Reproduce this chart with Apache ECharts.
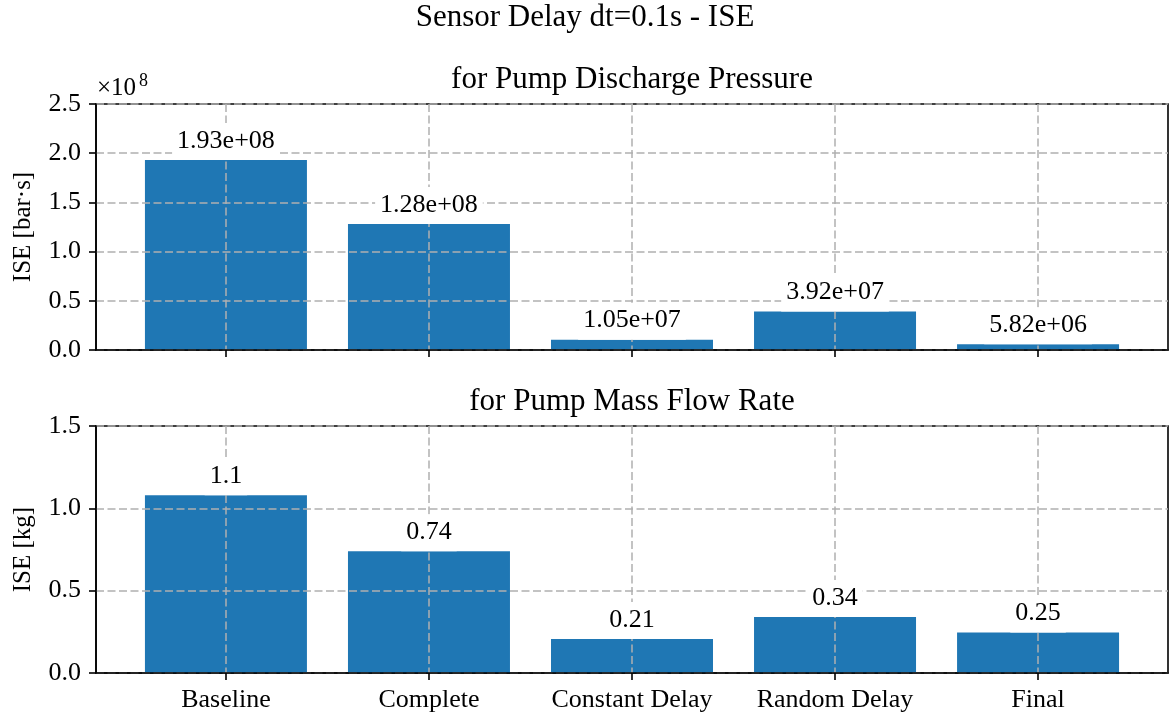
<!DOCTYPE html>
<html><head><meta charset="utf-8">
<script src="https://cdn.jsdelivr.net/npm/echarts@6/dist/echarts.min.js"></script>
<style>html,body{margin:0;padding:0;background:#fff}#c{width:1170px;height:717px}</style>
</head><body><div id="c"></div>
<script>
// ---- data ----
const categories = ['Baseline', 'Complete', 'Constant Delay', 'Random Delay', 'Final'];
const pressureISE = [1.93e8, 1.28e8, 1.05e7, 3.92e7, 5.82e6];   // bar·s
const massFlowISE = [1.08, 0.74, 0.206, 0.34, 0.246];           // kg
const pressureTicks = [0, 0.5, 1.0, 1.5, 2.0, 2.5];             // ×1e8
const massFlowTicks = [0, 0.5, 1.0, 1.5];
const pressureScale = 1e8;

// ---- style ----
const FF = 'Liberation Serif';
const TICK = 26, TITLE = 31;
const BLUE = '#1f77b4';
const GRIDC = '#b0b0b0';

const chart = echarts.init(document.getElementById('c'), null, {renderer: 'canvas'});

function fmtExp(v) {
  const s = v.toExponential(2);
  const [m, e] = s.split('e');
  const sign = e[0];
  let digits = e.slice(1);
  if (digits.length < 2) digits = '0' + digits;
  return m + 'e' + sign + digits;
}
function fmtG2(v) { return String(Number(v.toPrecision(2))); }

const catIdx = categories.map((c, i) => i);
const grids = [
  {left: 96, right: 2, top: 104, height: 246, show: true, borderColor: '#000', borderWidth: 1.6, backgroundColor: 'transparent'},
  {left: 96, right: 2, top: 426, height: 247, show: true, borderColor: '#000', borderWidth: 1.6, backgroundColor: 'transparent'}
];
const DASH = {color: GRIDC, width: 1.5, type: [8, 3.5]};

function xAxisDef(gi, showLabels) {
  return {
    type: 'value', gridIndex: gi, min: -0.64, max: categories.length - 1 + 0.64, z: 3,
    axisLine: {show: true, onZero: false, lineStyle: {color: '#000', width: 1.6}},
    axisTick: {show: true, inside: false, length: 7, customValues: catIdx, lineStyle: {color: '#000', width: 1.6}},
    axisLabel: {show: showLabels, customValues: catIdx, margin: 14, formatter: v => categories[Math.round(v)] || '',
      fontFamily: FF, fontSize: TICK, color: '#000'},
    splitLine: {show: true, lineStyle: DASH}
  };
}
function yAxisDef(gi, ticks, scale, name, fmtDigits) {
  return {
    type: 'value', gridIndex: gi, z: 3,
    min: ticks[0] * scale, max: ticks[ticks.length - 1] * scale, interval: (ticks[1] - ticks[0]) * scale,
    name: name, nameLocation: 'middle', nameGap: 60, nameRotate: 90,
    nameTextStyle: {fontFamily: FF, fontSize: 25, color: '#000'},
    axisLine: {show: true, onZero: false, lineStyle: {color: '#000', width: 1.6}},
    axisTick: {show: true, inside: false, length: 7, lineStyle: {color: '#000', width: 1.6}},
    axisLabel: {margin: 15, formatter: v => (v / scale).toFixed(fmtDigits), fontFamily: FF, fontSize: TICK, color: '#000'},
    splitLine: {show: true, lineStyle: DASH}
  };
}

function barPair(gi, values, fmt) {
  const d = values.map((v, i) => [i, v]);
  return [
    {type: 'bar', xAxisIndex: gi, yAxisIndex: gi, data: d, barWidth: 162, barGap: '-100%', z: 1, silent: true,
      itemStyle: {color: BLUE}},
    {type: 'bar', xAxisIndex: gi, yAxisIndex: gi, data: d, barWidth: 162, barGap: '-100%', z: 4, silent: true,
      itemStyle: {color: 'rgba(0,0,0,0)'},
      label: {show: true, position: 'top', distance: 0, formatter: p => fmt(p.value[1]),
        backgroundColor: '#fff', padding: [8, 5, 9, 5], lineHeight: 20,
        fontFamily: FF, fontSize: TICK, color: '#000'}}
  ];
}

const option = {
  animation: false,
  backgroundColor: '#fff',
  grid: grids,
  xAxis: [xAxisDef(0, false), xAxisDef(1, true)],
  yAxis: [
    yAxisDef(0, pressureTicks, pressureScale, 'ISE [bar·s]', 1),
    yAxisDef(1, massFlowTicks, 1, 'ISE [kg]', 1)
  ],
  series: [...barPair(0, pressureISE, fmtExp), ...barPair(1, massFlowISE, fmtG2)],
  graphic: [
    {type: 'text', x: 585, y: 18, style: {text: 'Sensor Delay dt=0.1s - ISE', fontFamily: FF, fontSize: TITLE, fill: '#000', align: 'center', verticalAlign: 'middle'}},
    {type: 'text', x: 632, y: 80, style: {text: 'for Pump Discharge Pressure', fontFamily: FF, fontSize: TITLE, fill: '#000', align: 'center', verticalAlign: 'middle'}},
    {type: 'text', x: 632, y: 402, style: {text: 'for Pump Mass Flow Rate', fontFamily: FF, fontSize: TITLE, fill: '#000', align: 'center', verticalAlign: 'middle'}},
    {type: 'text', x: 97, y: 88, style: {text: '×10', fontFamily: FF, fontSize: 25, fill: '#000', align: 'left', verticalAlign: 'middle'}},
    {type: 'text', x: 139, y: 81, style: {text: '8', fontFamily: FF, fontSize: 18, fill: '#000', align: 'left', verticalAlign: 'middle'}}
  ]
};
chart.setOption(option);
</script>
</body></html>
